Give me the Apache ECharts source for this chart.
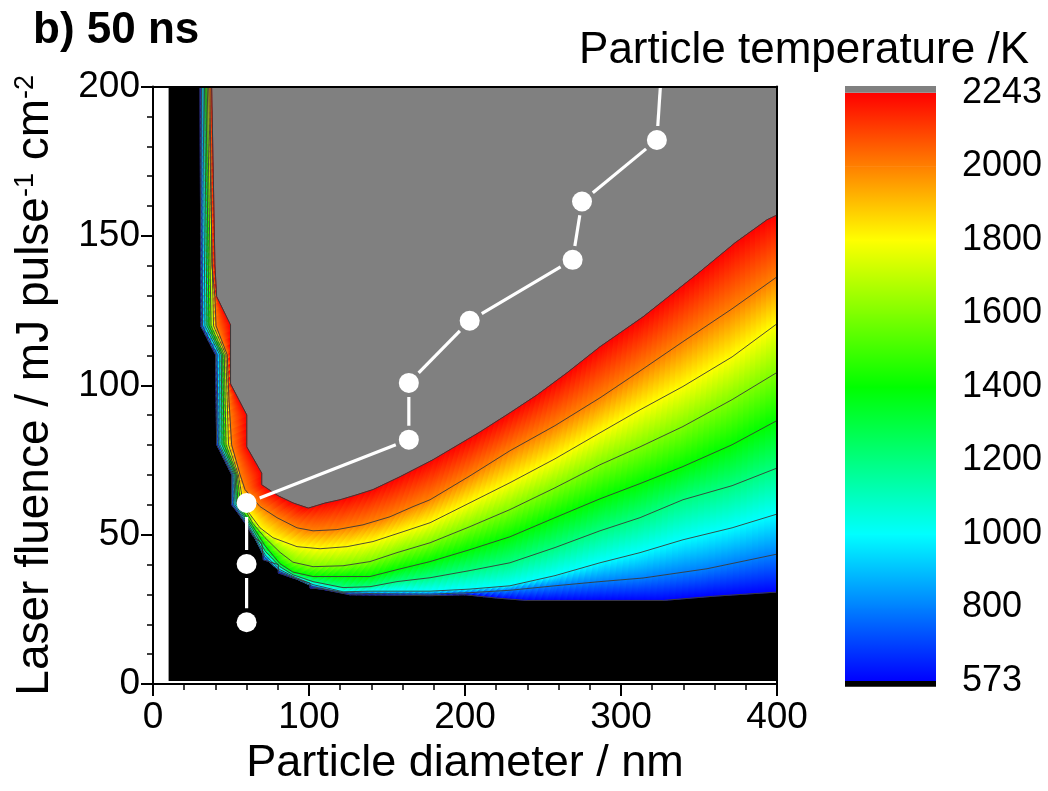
<!DOCTYPE html>
<html><head><meta charset="utf-8">
<script src="https://cdn.jsdelivr.net/npm/echarts@6/dist/echarts.min.js"></script>
<style>html,body{margin:0;padding:0;background:#fff}#c{width:1048px;height:791px}</style>
</head><body><div id="c"></div>
<script>
// ---- data ----
// contour levels of particle temperature (K)
const levels = [573, 800, 1000, 1200, 1400, 1600, 1800, 2000, 2243];
// contour curves: [particle diameter (nm), laser fluence (mJ pulse^-1 cm^-2)]
const T573 = [[30.1,200],[30.8,119.7],[40.1,110.2],[40.8,80.1],[50.4,70.1],[50.4,60.0],[53.7,57.8],[59.0,53.9],[64.3,49.4],[69.7,47.2],[70.7,41.6],[80.3,40.0],[80.3,37.2],[89.9,35.5],[100.6,33.8],[100.6,32.2],[108.1,31.8],[126.3,29.9],[177.6,29.6],[200,29.9],[220.3,28.8],[239.6,28.0],[327.1,28.0],[359.2,29.4],[400,30.8]];
const T800 = [[31.1,200],[31.7,119.9],[41.0,110.5],[41.9,80.1],[51.2,70.1],[51.5,60.0],[53.8,58.4],[59.0,54.5],[64.1,50.0],[71.8,42.3],[81.4,37.6],[89.7,35.8],[102.6,32.6],[121.8,30.6],[139.1,30.3],[177.6,30.1],[203.2,30.6],[228.8,31.4],[257.7,32.9],[286.5,34.3],[314.1,35.5],[355.1,38.6],[400,43.5]];
const T1000 = [[32.1,200],[33.3,119.9],[42.8,110.2],[42.9,80.1],[51.9,70.1],[52.6,60.0],[54.2,58.9],[59.0,55.2],[64.1,50.7],[71.8,43.3],[81.4,38.3],[89.7,36.1],[102.6,33.3],[121.8,30.9],[139.1,31.1],[156.4,31.1],[177.6,31.1],[203.2,31.8],[228.8,32.9],[257.7,36.3],[286.5,40.6],[312.2,44.0],[339.7,48.3],[371.2,52.3],[400,56.9]];
const T1200 = [[33.0,200],[34.6,119.9],[43.8,110.2],[44.2,80.1],[52.6,70.1],[53.5,60.4],[54.5,59.4],[59.0,55.9],[64.1,51.7],[71.8,44.6],[81.4,39.3],[89.7,36.6],[102.6,34.3],[121.8,32.3],[139.1,32.6],[156.4,34.3],[177.6,35.6],[203.2,38.0],[228.8,40.6],[257.7,45.7],[286.5,51.3],[312.2,55.7],[339.7,61.7],[371.2,66.4],[400,72.3]];
const T1400 = [[33.9,200],[35.9,119.9],[44.7,110.2],[45.5,80.1],[53.3,70.1],[54.5,60.7],[59.0,56.7],[64.1,52.7],[71.8,46.3],[81.4,40.3],[89.7,37.5],[102.6,36.0],[121.8,36.0],[139.1,36.0],[156.4,38.3],[177.6,41.0],[203.2,45.0],[228.8,49.3],[257.7,55.7],[286.5,62.0],[312.2,67.1],[339.7,72.8],[371.2,80.1],[400,88.2]];
const T1600 = [[34.8,200],[37.2,119.9],[45.7,110.2],[46.8,80.1],[54.0,70.1],[55.8,61.7],[59.0,58.4],[64.1,53.7],[71.8,49.0],[81.4,44.1],[89.7,40.8],[102.6,39.3],[121.8,39.6],[139.1,41.0],[156.4,44.0],[177.6,47.3],[203.2,52.7],[228.8,58.4],[257.7,65.7],[286.5,73.4],[312.2,79.4],[339.7,86.2],[371.2,95.2],[400,104.3]];
const T1800 = [[35.6,200],[38.8,119.9],[46.7,110.2],[48.4,80.1],[54.7,70.1],[57.1,62.7],[60.9,57.7],[68.6,52.3],[76.9,49.0],[92.3,46.0],[107.1,45.3],[124.4,46.0],[141.0,47.7],[160.3,51.0],[177.6,54.0],[203.2,60.7],[228.8,67.4],[257.7,75.4],[286.5,84.1],[312.2,91.8],[339.7,99.6],[371.2,109.5],[400,120.6]];
const T2000 = [[36.5,200],[37.8,140.3],[39.7,129.6],[40.4,119.9],[47.6,110.2],[48.7,95.2],[50.4,80.1],[55.8,70.1],[59.0,65.1],[68.6,59.4],[79.5,55.7],[92.3,52.3],[102.6,51.3],[117.9,51.7],[134.6,53.3],[151.9,56.0],[166.7,59.4],[177.6,61.7],[203.2,69.7],[228.8,78.1],[257.7,86.5],[286.5,95.8],[312.2,104.8],[339.7,114.6],[371.2,125.6],[400,136.3]];
const T2243 = [[37.6,200],[39.7,140.3],[40.8,129.7],[49.7,120.2],[49.7,100.5],[60.1,90.1],[60.1,79.4],[69.7,70.6],[69.7,66.7],[80.3,63.0],[89.9,60.6],[99.6,58.9],[110.3,60.6],[119.9,61.7],[130.8,63.4],[141.0,65.1],[158.3,69.4],[179.5,75.1],[209.6,84.4],[228.8,90.8],[246.2,96.8],[265.4,104.2],[286.5,112.9],[314.1,122.9],[350.6,138.0],[373.1,147.7],[393.6,155.4],[400,157.0]];
const curves = [T573, T800, T1000, T1200, T1400, T1600, T1800, T2000, T2243];
// simulated domain (diameter and fluence ranges)
const domainD = [10, 400];
const domainF = [1, 200];
// white path of measured points
const pathD = [60, 60, 60, 164, 164, 203, 269, 275, 323, 328];
const pathF = [20.7, 40.2, 60.6, 81.8, 100.8, 121.6, 142, 161.5, 182.1, 222];

// ---- rendering ----
const FONT = "'Liberation Sans', Arial, Helvetica, sans-serif";
const colorStops = [[0,[0,0,255]],[2,[0,255,255]],[4,[0,255,0]],[6,[255,255,0]],[8,[255,0,0]]];
function colorAt(u){
  u = Math.max(0, Math.min(8, u));
  for (let i=0;i<colorStops.length-1;i++){
    const a=colorStops[i], b=colorStops[i+1];
    if (u<=b[0]){ const t=(u-a[0])/(b[0]-a[0]);
      const c=a[1].map((v,k)=>Math.round(v+(b[1][k]-v)*t));
      return 'rgb('+c.join(',')+')'; }
  }
  return 'rgb(255,0,0)';
}
function prep(px){ const cum=[0]; for(let i=1;i<px.length;i++){ cum.push(cum[i-1]+Math.hypot(px[i][0]-px[i-1][0],px[i][1]-px[i-1][1])); } return {px,cum,L:cum[cum.length-1]}; }
function at(c,t){ const s=t*c.L; let i=0; while(i<c.px.length-2 && c.cum[i+1]<s) i++; const seg=c.cum[i+1]-c.cum[i]; const u=seg>0?Math.max(0,Math.min(1,(s-c.cum[i])/seg)):0; const a=c.px[i], b=c.px[i+1]; return [a[0]+u*(b[0]-a[0]), a[1]+u*(b[1]-a[1])]; }

function renderBand(params, api){
  const k = params.dataIndex;
  const A = prep(curves[k].map(p=>api.coord(p)));
  const B = prep(curves[k+1].map(p=>api.coord(p)));
  const set = new Set();
  A.cum.forEach(v=>set.add(+(v/A.L).toFixed(6)));
  B.cum.forEach(v=>set.add(+(v/B.L).toFixed(6)));
  const N = 160; for(let j=0;j<=N;j++) set.add(+(j/N).toFixed(6));
  const ts = Array.from(set).sort((a,b)=>a-b);
  const pa = ts.map(t=>at(A,t)), pb = ts.map(t=>at(B,t));
  const cLo = colorAt(k), cHi = colorAt(k+1), cMid = colorAt(k+0.5);
  const children = [{type:'polygon', shape:{points: pa.concat(pb.slice().reverse())}, style:{fill:cMid}}];
  for (let j=0;j<ts.length-1;j++){
    const m1=[(pa[j][0]+pa[j+1][0])/2,(pa[j][1]+pa[j+1][1])/2];
    const m2=[(pb[j][0]+pb[j+1][0])/2,(pb[j][1]+pb[j+1][1])/2];
    let fill;
    if (Math.hypot(m2[0]-m1[0],m2[1]-m1[1])<0.3) fill=cMid;
    else fill=new echarts.graphic.LinearGradient(m1[0],m1[1],m2[0],m2[1],[{offset:0,color:cLo},{offset:1,color:cHi}],true);
    children.push({type:'polygon', shape:{points:[pa[j],pa[j+1],pb[j+1],pb[j]]}, style:{fill:fill, stroke:fill, lineWidth:0.8}});
  }
  return {type:'group', children};
}

const chart = echarts.init(document.getElementById('c'));
const axisText = {fontSize:37, color:'#000', fontFamily:FONT};
const lineSeries = curves.map((c,i)=>({
  type:'line', data:c, xAxisIndex:0, yAxisIndex:0, showSymbol:false, symbol:'none', silent:true, clip:true,
  lineStyle:{color:'#3a3a3a', width:(i===0||i===curves.length-1)?1:0.9}, z:4
}));

chart.setOption({
  animation:false,
  title:[
    {text:'b) 50 ns', left:28, top:4, textStyle:{fontSize:44, fontWeight:'bold', fontFamily:FONT, color:'#000'}},
    {text:'Particle temperature /K', right:14, top:24, textStyle:{fontSize:44, fontWeight:'normal', fontFamily:FONT, color:'#000'}}
  ],
  grid:[
    {left:153, right:271, top:86.5, bottom:106.5},
    {left:845, width:91, top:92.7, height:588.3}
  ],
  xAxis:[
    {gridIndex:0, type:'value', min:0, max:400, interval:100, z:10,
     axisLine:{onZero:false, lineStyle:{color:'#000', width:2}},
     axisTick:{inside:false, length:12, lineStyle:{color:'#000', width:2}},
     minorTick:{show:true, splitNumber:5, length:6, lineStyle:{color:'#000', width:1.5}},
     splitLine:{show:false}, axisLabel:Object.assign({margin:15}, axisText),
     name:'Particle diameter / nm', nameLocation:'middle', nameGap:52,
     nameTextStyle:{fontSize:45, color:'#000', fontFamily:FONT}},
    {gridIndex:0, type:'value', min:0, max:400, position:'top', z:10,
     axisLine:{onZero:false, lineStyle:{color:'#000', width:2}}, axisTick:{show:false}, axisLabel:{show:false}, splitLine:{show:false}},
    {gridIndex:1, type:'value', min:0, max:1, show:false}
  ],
  yAxis:[
    {gridIndex:0, type:'value', min:0, max:200, interval:50, z:10,
     axisLine:{onZero:false, lineStyle:{color:'#000', width:2}},
     axisTick:{inside:false, length:12, lineStyle:{color:'#000', width:2}},
     minorTick:{show:true, splitNumber:5, length:6, lineStyle:{color:'#000', width:1.5}},
     splitLine:{show:false}, axisLabel:Object.assign({margin:13}, axisText),
     name:'{a|Laser fluence / mJ pulse}{s|-1}{a| cm}{s|-2}', nameLocation:'middle', nameGap:95, nameRotate:90,
     nameTextStyle:{rich:{a:{fontSize:46, color:'#000', fontFamily:FONT}, s:{fontSize:27, color:'#000', fontFamily:FONT, verticalAlign:'top'}}}},
    {gridIndex:0, type:'value', min:0, max:200, position:'right', z:10,
     axisLine:{onZero:false, lineStyle:{color:'#000', width:2}}, axisTick:{show:false}, axisLabel:{show:false}, splitLine:{show:false}},
    {gridIndex:1, type:'value', min:0, max:8, interval:1, position:'right',
     axisLine:{show:false}, axisTick:{show:false}, splitLine:{show:false},
     axisLabel:Object.assign({margin:26, formatter:(v)=>String(levels[Math.round(v)])}, axisText, {fontSize:36})}
  ],
  series:[
    // black background = below 573 K over simulated domain
    {type:'custom', xAxisIndex:0, yAxisIndex:0, silent:true, clip:true, z:1,
     data:[[domainD[0], domainF[0], domainD[1], domainF[1]]],
     renderItem:(p,api)=>{ const a=api.coord([api.value(0),api.value(3)]), b=api.coord([api.value(2),api.value(1)]);
       return {type:'rect', shape:{x:a[0], y:a[1], width:b[0]-a[0], height:b[1]-a[1]}, style:{fill:'#000'}}; }},
    // grey region = above 2243 K
    {type:'custom', xAxisIndex:0, yAxisIndex:0, silent:true, clip:true, z:1,
     data:[[domainD[1], domainF[1]]],
     renderItem:(p,api)=>{ const pts=T2243.map(q=>api.coord(q)); pts.push(api.coord([api.value(0),api.value(1)]));
       return {type:'polygon', shape:{points:pts}, style:{fill:'#808080'}}; }},
    // colour bands between contours
    {type:'custom', xAxisIndex:0, yAxisIndex:0, silent:true, clip:true, z:2,
     data:levels.slice(0,-1).map((v,i)=>[i,v]), renderItem:renderBand},
    ...lineSeries,
    // white connecting path with gaps at symbols
    {type:'custom', xAxisIndex:0, yAxisIndex:0, silent:true, clip:true, z:6,
     data:pathD.map((d,i)=>[d,pathF[i]]),
     renderItem:(p,api)=>{ const i=p.dataIndex; if(i===0) return {type:'group', children:[]};
       const a=api.coord([pathD[i-1],pathF[i-1]]), b=api.coord([pathD[i],pathF[i]]);
       const L=Math.hypot(b[0]-a[0],b[1]-a[1]), g=14; const ux=(b[0]-a[0])/L, uy=(b[1]-a[1])/L;
       return {type:'line', shape:{x1:a[0]+ux*g, y1:a[1]+uy*g, x2:b[0]-ux*g, y2:b[1]-uy*g}, style:{stroke:'#fff', lineWidth:3.2}}; }},
    {type:'scatter', xAxisIndex:0, yAxisIndex:0, silent:true, clip:true, z:7, symbol:'circle', symbolSize:20,
     itemStyle:{color:'#fff', opacity:1}, data:pathD.map((d,i)=>[d,pathF[i]])},
    // colour scale bar
    {type:'custom', xAxisIndex:2, yAxisIndex:2, silent:true, z:2,
     data:levels.map((v,i)=>[0,i]),
     renderItem:(p,api)=>{ const i=p.dataIndex; const n=levels.length-1;
       if (i===n){ const a=api.coord([0,n]), b=api.coord([1,n]); return {type:'rect', shape:{x:a[0], y:a[1]-6.7, width:b[0]-a[0], height:6.7}, style:{fill:'#808080'}}; }
       const a=api.coord([0,i+1]), b=api.coord([1,i]);
       const children=[{type:'rect', shape:{x:a[0], y:a[1], width:b[0]-a[0], height:b[1]-a[1]+0.6},
         style:{fill:new echarts.graphic.LinearGradient(0,1,0,0,[{offset:0,color:colorAt(i)},{offset:1,color:colorAt(i+1)}])}}];
       if (i===0) children.push({type:'rect', shape:{x:a[0], y:b[1], width:b[0]-a[0], height:5.7}, style:{fill:'#000'}});
       return {type:'group', children}; }}
  ]
});
</script></body></html>
